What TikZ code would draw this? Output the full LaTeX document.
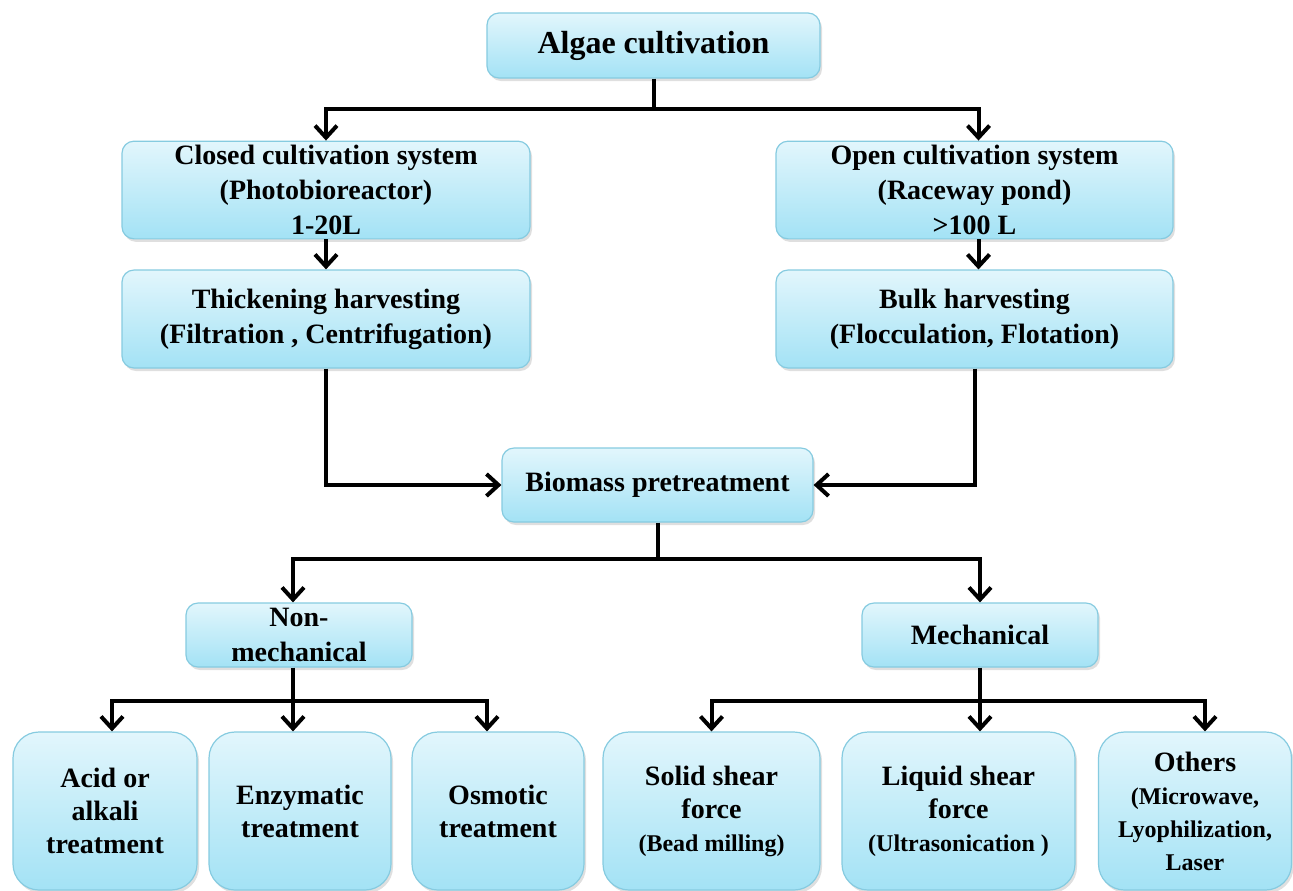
\documentclass[tikz,border=0pt]{standalone}
\usepackage{fontspec}
\setmainfont{Liberation Serif}
\usetikzlibrary{arrows.meta,shadows}
\definecolor{boxtop}{HTML}{E2F6FC}
\definecolor{boxbot}{HTML}{A3E2F5}
\definecolor{boxline}{HTML}{86CBE0}
\newcommand{\subtxt}[1]{{\fontsize{12}{15}\selectfont #1}}
\begin{document}
\begin{tikzpicture}[x=0.5pt, y=-0.5pt,
          box/.style={rectangle, rounded corners=6pt, draw=boxline, line width=0.6pt,
                      top color=boxtop, bottom color=boxbot,
                      drop shadow={shadow xshift=1pt, shadow yshift=-1.5pt, opacity=0.25},
                      align=center, inner sep=2pt, font=\fontsize{14}{17.5}\selectfont\bfseries},
          leaf/.style={box, rounded corners=13pt, minimum height=79pt, font=\fontsize{14}{16.5}\selectfont\bfseries},
          link/.style={line width=2pt},
          arr/.style={link, -{Straight Barb[length=6pt,width=11pt]}}]
          \useasboundingbox (0,0) rectangle (1293,890);
          % top part
          \node[box, minimum width=166.5pt, minimum height=32.5pt, font=\fontsize{16}{19}\selectfont\bfseries] (algae) at (653.5,45.5) {Algae cultivation};
          \node[box, minimum width=204pt, minimum height=48pt] (closed) at (326,190) {Closed cultivation system\\(Photobioreactor)\\1-20L};
          \node[box, minimum width=198.5pt, minimum height=48pt] (open) at (974.5,190) {Open cultivation system\\(Raceway pond)\\>100 L};
          \node[box, minimum width=204pt, minimum height=49pt] (thick) at (326,319) {Thickening harvesting\\(Filtration , Centrifugation)};
          \node[box, minimum width=198.5pt, minimum height=49pt] (bulk) at (974.5,319) {Bulk harvesting\\(Flocculation, Flotation)};
          \node[box, minimum width=155.5pt, minimum height=37pt] (biomass) at (657.5,485) {Biomass pretreatment};
          % pretreatment
          \node[box, minimum width=113pt, minimum height=32pt] (nonmech) at (299,635) {Non-\\mechanical};
          \node[box, minimum width=118pt, minimum height=32pt] (mech) at (980,635) {Mechanical};
          \node[leaf, minimum width=92pt] (acid) at (105,811) {Acid or\\alkali\\treatment};
          \node[leaf, minimum width=91pt] (enzyme) at (300,811) {Enzymatic\\treatment};
          \node[leaf, minimum width=86pt] (osmotic) at (498,811) {Osmotic\\treatment};
          \node[leaf, minimum width=108.5pt] (solid) at (711.5,811) {Solid shear\\force\\\subtxt{(Bead milling)}};
          \node[leaf, minimum width=116.5pt] (liquid) at (958.5,811) {Liquid shear\\force\\\subtxt{(Ultrasonication )}};
          \node[leaf, minimum width=96.5pt] (others) at (1195,811) {Others\\\subtxt{(Microwave,}\\\subtxt{Lyophilization,}\\\subtxt{Laser}};
          % connectors
          \coordinate (s1) at ([yshift=-15pt]algae.south);
          \coordinate (s2) at ([yshift=-18pt]biomass.south);
          \coordinate (s3) at ([xshift=-3pt,yshift=-16.5pt]nonmech.south);
          \coordinate (s4) at ([yshift=-16.5pt]mech.south);
          \draw[link] (algae) -- (s1);
          \draw[arr] (s1) -| (closed.north);
          \draw[arr] (s1) -| ([xshift=2pt]open.north);
          \draw[arr] (closed) -- (thick);
          \draw[arr] ([xshift=2pt]open.south) -- ([xshift=2pt]bulk.north);
          \draw[arr] (thick.south) |- (biomass.west);
          \draw[arr] (bulk.south) |- (biomass.east);
          \draw[link] (biomass) -- (s2);
          \draw[arr] (s2) -| ([xshift=-3pt]nonmech.north);
          \draw[arr] (s2) -| (mech.north);
          \draw[link] (s3 |- nonmech.south) -- (s3);
          \draw[arr] (s3) -| ([xshift=3.5pt]acid.north);
          \draw[arr] (s3) -| ([xshift=-3.5pt]enzyme.north);
          \draw[arr] (s3) -| ([xshift=-5.5pt]osmotic.north);
          \draw[link] (mech) -- (s4);
          \draw[arr] (s4) -| (solid.north);
          \draw[arr] (s4) -| ([xshift=10.75pt]liquid.north);
          \draw[arr] (s4) -| ([xshift=5pt]others.north);
\end{tikzpicture}
\end{document}
